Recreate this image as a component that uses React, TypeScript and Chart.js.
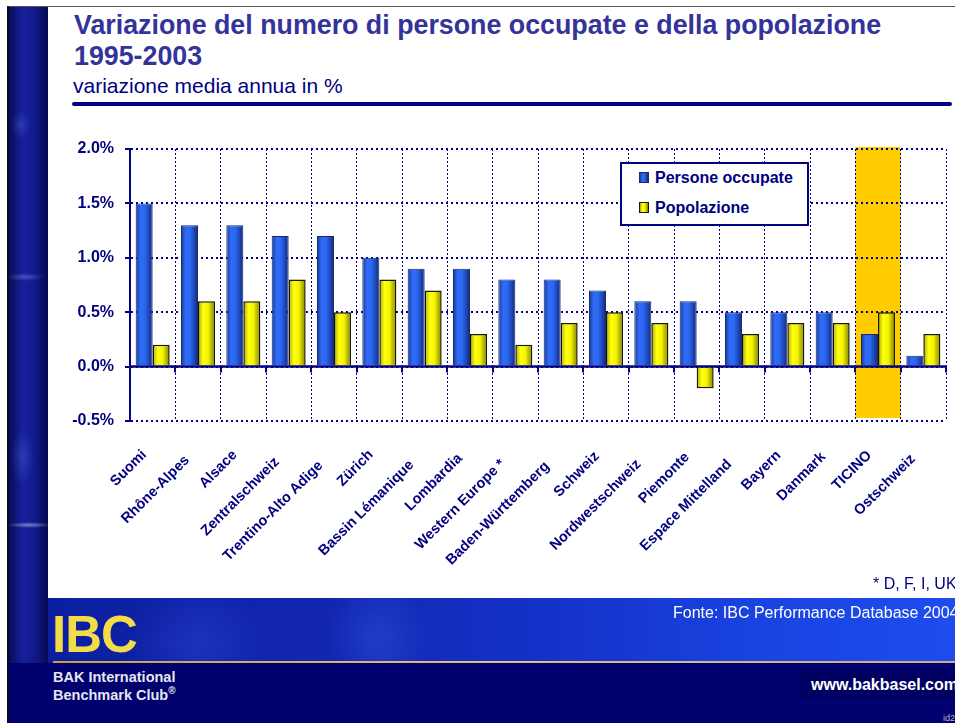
import React, { useEffect, useRef } from "react";
import { Chart, registerables } from "chart.js";

Chart.register(...registerables);

const categories = [
  "Suomi",
  "Rhône-Alpes",
  "Alsace",
  "Zentralschweiz",
  "Trentino-Alto Adige",
  "Zürich",
  "Bassin Lémanique",
  "Lombardia",
  "Western Europe *",
  "Baden-Württemberg",
  "Schweiz",
  "Nordwestschweiz",
  "Piemonte",
  "Espace Mittelland",
  "Bayern",
  "Danmark",
  "TICINO",
  "Ostschweiz",
];
const personeOccupate = [1.5, 1.3, 1.3, 1.2, 1.2, 1.0, 0.9, 0.9, 0.8, 0.8, 0.7, 0.6, 0.6, 0.5, 0.5, 0.5, 0.3, 0.1];
const popolazione = [0.2, 0.6, 0.6, 0.8, 0.5, 0.8, 0.7, 0.3, 0.2, 0.4, 0.5, 0.4, -0.2, 0.3, 0.4, 0.4, 0.5, 0.3];
const yMin = -0.5;
const yMax = 2.0;
const yStep = 0.5;
const highlighted = "TICINO";
const seriesNames = ["Persone occupate", "Popolazione"];

const NAVY = "#000080";
const FONT = '"Liberation Sans", Arial, Helvetica, sans-serif';
const CAT_PCT = 0.75;

const blueStops: [number, string][] = [
  [0, "#1c3a98"],
  [0.3, "#2f6df8"],
  [0.55, "#2a66f0"],
  [1, "#13297a"],
];
const yellowStops: [number, string][] = [
  [0, "#a8a800"],
  [0.3, "#ffff10"],
  [0.6, "#f4f400"],
  [1, "#7e7e00"],
];

function barFill(stops: [number, string][], dsIndex: number) {
  return (ctx: any) => {
    const chart = ctx.chart;
    const xs = chart.scales && chart.scales.x;
    if (!xs || !chart.chartArea || ctx.dataIndex == null || ctx.type !== "data") return stops[1][1];
    const center = xs.getPixelForValue(ctx.dataIndex);
    const catW = xs.width / categories.length;
    const bw = (catW * CAT_PCT) / 2;
    const left = dsIndex === 0 ? center - bw : center;
    const g = chart.ctx.createLinearGradient(left, 0, left + bw, 0);
    stops.forEach(([o, c]) => g.addColorStop(o, c));
    return g;
  };
}

const highlightPlugin = {
  id: "highlight",
  beforeDraw(chart: any) {
    const xs = chart.scales.x;
    const { top, bottom } = chart.chartArea;
    const idx = categories.indexOf(highlighted);
    if (idx < 0) return;
    const catW = xs.width / categories.length;
    const cx = xs.getPixelForValue(idx);
    const c = chart.ctx;
    c.save();
    c.fillStyle = "#ffcc00";
    c.fillRect(cx - catW / 2, top - 2, catW, bottom - top - 1);
    c.restore();
  },
};

const axisPlugin = {
  id: "zeroAxis",
  afterDatasetsDraw(chart: any) {
    const xs = chart.scales.x;
    const ys = chart.scales.y;
    const { left, right } = chart.chartArea;
    const y0 = ys.getPixelForValue(0);
    const catW = xs.width / categories.length;
    const c = chart.ctx;
    c.save();
    c.strokeStyle = NAVY;
    c.lineWidth = 2.5;
    c.beginPath();
    c.moveTo(left, y0);
    c.lineTo(right, y0);
    c.stroke();
    c.lineWidth = 2;
    for (let i = 0; i <= categories.length; i++) {
      const x = Math.round(xs.getPixelForValue(i) - catW / 2);
      c.beginPath();
      c.moveTo(x, y0);
      c.lineTo(x, y0 + 6);
      c.stroke();
    }
    c.restore();
  },
};

const labelsPlugin = {
  id: "rotLabels",
  afterDraw(chart: any) {
    const xs = chart.scales.x;
    const { bottom } = chart.chartArea;
    const c = chart.ctx;
    c.save();
    c.font = `bold 14.5px ${FONT}`;
    c.fillStyle = NAVY;
    c.textAlign = "right";
    c.textBaseline = "top";
    categories.forEach((lab, i) => {
      const cx = xs.getPixelForValue(i);
      const w = c.measureText(lab).width;
      const px = cx - 11 - 0.055 * w;
      const py = bottom + 21 + 0.122 * w;
      c.save();
      c.translate(px, py);
      c.rotate(-Math.PI / 4);
      c.fillText(lab, 0, 0);
      c.restore();
    });
    c.restore();
  },
};

export default function App() {
  const ref = useRef<HTMLCanvasElement>(null);

  useEffect(() => {
    const chart = new Chart(ref.current as HTMLCanvasElement, {
      type: "bar",
      data: {
        labels: categories,
        datasets: [
          {
            label: seriesNames[0],
            data: personeOccupate,
            backgroundColor: barFill(blueStops, 0),
            borderColor: "#1a2870",
            borderWidth: 1,
            categoryPercentage: CAT_PCT,
            barPercentage: 1,
          },
          {
            label: seriesNames[1],
            data: popolazione,
            backgroundColor: barFill(yellowStops, 1),
            borderColor: "#1a1a00",
            borderWidth: 1.5,
            categoryPercentage: CAT_PCT,
            barPercentage: 1,
          },
        ],
      },
      options: {
        responsive: false,
        animation: false,
        layout: { padding: { top: 39, right: 9, bottom: 174, left: 0 } },
        plugins: {
          legend: { display: false },
          tooltip: { enabled: false },
        },
        scales: {
          x: {
            ticks: { display: false },
            grid: {
              offset: true,
              color: NAVY,
              lineWidth: 1,
              drawTicks: false,
            },
            border: { display: false, dash: [2, 2] },
          },
          y: {
            min: yMin,
            max: yMax,
            afterFit: (scale: any) => {
              scale.width = 82;
            },
            ticks: {
              stepSize: yStep,
              padding: 11,
              color: NAVY,
              font: { family: FONT, size: 16, weight: "bold" },
              callback: (v: any) => Number(v).toFixed(1) + "%",
            },
            grid: {
              color: NAVY,
              lineWidth: 2,
              drawTicks: true,
              tickLength: 5,
              tickColor: NAVY,
              tickWidth: 2,
              tickBorderDash: [],
            },
            border: { display: true, color: NAVY, width: 2, dash: [2, 3] },
          },
        },
      },
      plugins: [highlightPlugin, axisPlugin, labelsPlugin],
    });
    return () => chart.destroy();
  }, []);

  const abs = (s: React.CSSProperties): React.CSSProperties => ({ position: "absolute", ...s });

  const marker = (stops: [number, string][], border: string): React.CSSProperties => ({
    position: "absolute",
    width: 8,
    height: 9,
    border: `1px solid ${border}`,
    background: `linear-gradient(90deg, ${stops.map(([o, c]) => `${c} ${o * 100}%`).join(", ")})`,
  });

  return (
    <div
      style={{
        position: "absolute",
        left: 0,
        top: 0,
        width: 955,
        height: 723,
        overflow: "hidden",
        background: "#ffffff",
        fontFamily: FONT,
      }}
    >
      {/* top rule */}
      <div style={abs({ left: 7, top: 6, width: 948, height: 1, background: "#555" })} />
      {/* left decorative strip */}
      <div style={abs({ left: 7, top: 6, width: 2, height: 717, background: "#0a0a20" })} />
      <div
        style={abs({
          left: 9,
          top: 7,
          width: 39,
          height: 716,
          background:
            "radial-gradient(ellipse 22px 3px at 20px 518px, rgba(200,220,255,0.55), rgba(200,220,255,0) 100%)," +
            "radial-gradient(ellipse 20px 4px at 16px 270px, rgba(150,180,255,0.35), rgba(150,180,255,0) 100%)," +
            "radial-gradient(ellipse 12px 28px at 14px 450px, rgba(110,140,255,0.25), rgba(110,140,255,0) 100%)," +
            "radial-gradient(ellipse 10px 14px at 12px 118px, rgba(110,140,255,0.25), rgba(110,140,255,0) 100%)," +
            "linear-gradient(90deg, #080c58 0%, #16209c 35%, #101888 70%, #060a4c 100%)",
        })}
      />

      {/* titles */}
      <div
        style={abs({
          left: 74,
          top: 10,
          width: 880,
          color: "#333399",
          fontWeight: "bold",
          fontSize: 26.8,
          lineHeight: "31px",
          whiteSpace: "nowrap",
        })}
      >
        <div>Variazione del numero di persone occupate e della popolazione</div>
        <div>1995-2003</div>
      </div>
      <div
        style={abs({
          left: 73,
          top: 74,
          color: "#000080",
          fontSize: 21,
          lineHeight: "24px",
          whiteSpace: "nowrap",
        })}
      >
        variazione media annua in %
      </div>
      <div style={abs({ left: 72, top: 102, width: 880, height: 4, background: "#000080", borderRadius: 2 })} />

      {/* chart */}
      <canvas
        ref={ref}
        width={907}
        height={485}
        style={abs({ left: 48, top: 110, width: 907, height: 485 })}
      />

      {/* legend */}
      <div
        style={abs({
          left: 620,
          top: 162,
          width: 189,
          height: 64,
          boxSizing: "border-box",
          border: "2.5px solid #000080",
          background: "#ffffff",
        })}
      >
        <div style={{ ...marker(blueStops, "#1a2870"), left: 17, top: 8 }} />
        <div
          style={abs({
            left: 33,
            top: 4,
            color: NAVY,
            fontWeight: "bold",
            fontSize: 16,
            lineHeight: "20px",
            whiteSpace: "nowrap",
          })}
        >
          {seriesNames[0]}
        </div>
        <div style={{ ...marker(yellowStops, "#1a1a00"), left: 17, top: 38 }} />
        <div
          style={abs({
            left: 33,
            top: 34,
            color: NAVY,
            fontWeight: "bold",
            fontSize: 16,
            lineHeight: "20px",
            whiteSpace: "nowrap",
          })}
        >
          {seriesNames[1]}
        </div>
      </div>

      {/* footnote */}
      <div
        style={abs({
          left: 873,
          top: 574,
          color: NAVY,
          fontSize: 16,
          lineHeight: "20px",
          whiteSpace: "nowrap",
        })}
      >
        * D, F, I, UK
      </div>

      {/* footer */}
      <div
        style={abs({
          left: 48,
          top: 598,
          width: 907,
          height: 65,
          background:
            "radial-gradient(ellipse 70px 60px at 150px 45px, rgba(50,80,220,0.35), rgba(50,80,220,0) 100%)," +
            "radial-gradient(ellipse 50px 60px at 330px 40px, rgba(60,100,235,0.35), rgba(60,100,235,0) 100%)," +
            "linear-gradient(90deg, #0c1ea0 0%, #1226b0 30%, #1432c8 55%, #1a44e2 80%, #1e4cee 100%)",
        })}
      />
      <div
        style={abs({
          left: 53,
          top: 661,
          width: 902,
          height: 2,
          background: "linear-gradient(90deg, #c8a040, #e0c080 50%, #c8b080)",
        })}
      />
      <div style={abs({ left: 48, top: 663, width: 907, height: 60, background: "#00006e" })} />
      <div style={abs({ left: 9, top: 663, width: 39, height: 60, background: "#00006e" })} />
      <div style={abs({ left: 800, top: 669, width: 155, height: 30, background: "#000062" })} />

      <div
        style={abs({
          left: 52,
          top: 606,
          color: "#f2dc48",
          fontWeight: "bold",
          fontSize: 51,
          lineHeight: "58px",
          letterSpacing: -1,
          whiteSpace: "nowrap",
        })}
      >
        IBC
      </div>
      <div
        style={abs({
          left: 53,
          top: 668,
          color: "#e4e6f0",
          fontWeight: "bold",
          fontSize: 14.5,
          lineHeight: "18px",
          whiteSpace: "nowrap",
        })}
      >
        <div>BAK International</div>
        <div>
          Benchmark Club<sup style={{ fontSize: 10, lineHeight: 0 }}>®</sup>
        </div>
      </div>
      <div
        style={abs({
          left: 673,
          top: 603,
          color: "#ffffff",
          fontSize: 16,
          lineHeight: "20px",
          whiteSpace: "nowrap",
        })}
      >
        Fonte: IBC Performance Database 2004
      </div>
      <div
        style={abs({
          left: 811,
          top: 675,
          color: "#ffffff",
          fontWeight: "bold",
          fontSize: 16,
          lineHeight: "20px",
          whiteSpace: "nowrap",
        })}
      >
        www.bakbasel.com
      </div>
      <div
        style={abs({
          left: 943,
          top: 713,
          color: "#b0b4c8",
          fontSize: 9,
          lineHeight: "10px",
          whiteSpace: "nowrap",
        })}
      >
        id2
      </div>
    </div>
  );
}
